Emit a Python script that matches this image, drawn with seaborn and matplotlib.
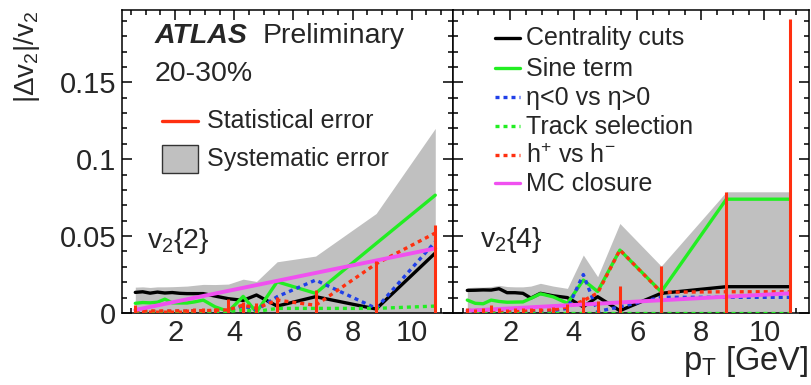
import numpy as np
import matplotlib
matplotlib.use("Agg")
import matplotlib.pyplot as plt
from matplotlib.ticker import MultipleLocator, FuncFormatter
from matplotlib.patches import Rectangle
import seaborn as sns

# ---------------- data ----------------
pt = [0.65, 0.9, 1.15, 1.4, 1.65, 1.9, 2.15, 2.4, 2.65, 2.95, 3.35, 3.8,
      4.3, 4.75, 5.45, 6.75, 8.8, 10.8]

# v2{2}
v22_syst = [0.0168, 0.0170, 0.0166, 0.0170, 0.0170, 0.0171, 0.0173, 0.0175, 0.0180, 0.0186,
            0.0185, 0.0188, 0.0220, 0.0205, 0.0333, 0.0370, 0.0647, 0.1200]
v22_centrality = [0.0134, 0.0138, 0.0129, 0.0136, 0.0130, 0.0133, 0.0128, 0.0126, 0.0126, 0.0126,
                  0.0110, 0.0093, 0.0082, 0.0117, 0.0045, 0.0106, 0.0026, 0.0390]
v22_sine = [0.0063, 0.0068, 0.0066, 0.0070, 0.0090, 0.0066, 0.0065, 0.0065, 0.0072, 0.0084,
            0.0040, 0.0010, 0.0108, 0.0005, 0.0203, 0.0128, 0.0452, 0.0766]
v22_eta = [0.0010, 0.0008, 0.0010, 0.0008, 0.0010, 0.0012, 0.0010, 0.0012, 0.0015, 0.0012,
           0.0010, 0.0015, 0.0045, 0.0020, 0.0106, 0.0214, 0.0030, 0.0463]
v22_track = [0.0008, 0.0008, 0.0008, 0.0008, 0.0008, 0.0008, 0.0008, 0.0008, 0.0008, 0.0010,
             0.0010, 0.0010, 0.0020, 0.0010, 0.0030, 0.0030, 0.0030, 0.0045]
v22_charge = [0.0015, 0.0012, 0.0015, 0.0012, 0.0015, 0.0012, 0.0015, 0.0012, 0.0015, 0.0015,
              0.0018, 0.0020, 0.0052, 0.0031, 0.0084, 0.0050, 0.0320, 0.0520]
v22_mc_pt = [0.65, 10.8]
v22_mc = [0.0020, 0.0420]
v22_stat = [0.0050, 0.0020, 0.0020, 0.0020, 0.0020, 0.0020, 0.0020, 0.0025, 0.0030, 0.0030,
            0.0030, 0.0090, 0.0073, 0.0063, 0.0106, 0.0150, 0.0340, 0.0570]

# v2{4}
v24_syst = [0.0165, 0.0168, 0.0168, 0.0172, 0.0180, 0.0172, 0.0170, 0.0170, 0.0175, 0.0193,
            0.0175, 0.0160, 0.0377, 0.0236, 0.0582, 0.0305, 0.0788, 0.0788]
v24_centrality = [0.0147, 0.0148, 0.0150, 0.0149, 0.0158, 0.0132, 0.0132, 0.0128, 0.0097, 0.0128,
                  0.0112, 0.0100, 0.0040, 0.0106, 0.0015, 0.0128, 0.0171, 0.0171]
v24_sine = [0.0084, 0.0063, 0.0060, 0.0084, 0.0075, 0.0070, 0.0071, 0.0072, 0.0095, 0.0125,
            0.0105, 0.0063, 0.0214, 0.0140, 0.0409, 0.0138, 0.0740, 0.0740]
v24_eta = [0.0005, 0.0006, 0.0005, 0.0008, 0.0006, 0.0008, 0.0010, 0.0008, 0.0010, 0.0012,
           0.0015, 0.0030, 0.0250, 0.0010, 0.0040, 0.0102, 0.0102, 0.0102]
v24_track = [0.0003, 0.0003, 0.0003, 0.0003, 0.0003, 0.0003, 0.0003, 0.0003, 0.0003, 0.0003,
             0.0003, 0.0003, 0.0003, 0.0003, 0.0003, 0.0003, 0.0003, 0.0003]
v24_charge = [0.0015, 0.0018, 0.0015, 0.0020, 0.0015, 0.0018, 0.0015, 0.0018, 0.0020, 0.0020,
              0.0020, 0.0040, 0.0080, 0.0130, 0.0410, 0.0135, 0.0138, 0.0138]
v24_mc_pt = [0.65, 10.8]
v24_mc = [0.0015, 0.0128]
v24_stat = [0.0030, 0.0025, 0.0030, 0.0050, 0.0030, 0.0025, 0.0030, 0.0030, 0.0030, 0.0030,
            0.0040, 0.0060, 0.0106, 0.0080, 0.0175, 0.0305, 0.0788, 0.1913]

x_ticks = [2, 4, 6, 8, 10]
y_ticks = [0, 0.05, 0.1, 0.15]

# ---------------- style ----------------
sns.set_style("ticks")
plt.rcParams["font.family"] = ["Liberation Sans", "DejaVu Sans"]
plt.rcParams["mathtext.fontset"] = "custom"
plt.rcParams["mathtext.rm"] = "Liberation Sans"
plt.rcParams["mathtext.it"] = "Liberation Sans:italic"
plt.rcParams["mathtext.bf"] = "Liberation Sans:bold"
plt.rcParams["mathtext.default"] = "rm"

C_BLACK = "#000000"
C_GREEN = "#22ee22"
C_BLUE = "#2040e8"
C_RED = "#ff3010"
C_MAG = "#f050f0"
C_GREY = "#c0c0c0"
LW = 2.4
DOT = (0, (1.2, 1.2))

fig = plt.figure(figsize=(8.12, 3.85), dpi=100)
ax_l = fig.add_axes([122 / 812, 72 / 385, 331 / 812, 303 / 385])
ax_r = fig.add_axes([453 / 812, 72 / 385, 356 / 812, 303 / 385])


def draw_panel(ax, syst, cent, sine, eta, track, charge, mc_x, mc, stat):
    ax.fill_between(pt, 0, syst, color=C_GREY, linewidth=0, zorder=1)
    kw = dict(estimator=None, ax=ax, legend=False, zorder=3)
    sns.lineplot(x=pt, y=cent, color=C_BLACK, linewidth=LW, **kw)
    sns.lineplot(x=pt, y=sine, color=C_GREEN, linewidth=LW, **kw)
    sns.lineplot(x=pt, y=eta, color=C_BLUE, linewidth=LW, linestyle=DOT, **kw)
    sns.lineplot(x=pt, y=track, color=C_GREEN, linewidth=LW, linestyle=DOT, **kw)
    sns.lineplot(x=pt, y=charge, color=C_RED, linewidth=LW, linestyle=DOT, **kw)
    sns.lineplot(x=mc_x, y=mc, color=C_MAG, linewidth=2.8, **kw)
    ax.vlines(pt, 0, stat, color=C_RED, linewidth=2.2, zorder=4)

    ax.set_xlim(0.2, 11.4)
    ax.set_ylim(0, 0.197)
    ax.set_xticks(x_ticks)
    ax.set_yticks(y_ticks)
    ax.xaxis.set_minor_locator(MultipleLocator(0.5))
    ax.yaxis.set_minor_locator(MultipleLocator(0.01))
    fmt = FuncFormatter(lambda v, p: f"{v:g}")
    ax.xaxis.set_major_formatter(fmt)
    ax.yaxis.set_major_formatter(fmt)
    ax.tick_params(which="both", direction="in", top=True, right=True,
                   width=1.1, color="black", labelsize=21, pad=4)
    ax.tick_params(which="major", length=7.5)
    ax.tick_params(which="minor", length=3.8)
    for s in ax.spines.values():
        s.set_linewidth(1.1)
        s.set_color("black")
    ax.set_xlabel("")
    ax.set_ylabel("")


draw_panel(ax_l, v22_syst, v22_centrality, v22_sine, v22_eta, v22_track, v22_charge,
           v22_mc_pt, v22_mc, v22_stat)
draw_panel(ax_r, v24_syst, v24_centrality, v24_sine, v24_eta, v24_track, v24_charge,
           v24_mc_pt, v24_mc, v24_stat)
ax_r.tick_params(labelleft=False)

# ---------------- labels, left panel ----------------
ax_l.text(0.0997, 0.890, "ATLAS", transform=ax_l.transAxes, fontsize=20.5,
          fontweight="bold", fontstyle="italic", va="baseline", ha="left")
ax_l.text(0.426, 0.890, "Preliminary", transform=ax_l.transAxes, fontsize=20.5,
          va="baseline", ha="left")
ax_l.text(0.0997, 0.766, "20-30%", transform=ax_l.transAxes, fontsize=20.5,
          va="baseline", ha="left")
ax_l.plot([0.121, 0.230], [0.635, 0.635], color=C_RED, linewidth=2.4,
          transform=ax_l.transAxes, clip_on=False, zorder=5)
ax_l.text(0.257, 0.610, "Statistical error", transform=ax_l.transAxes, fontsize=18,
          va="baseline", ha="left")
ax_l.add_patch(Rectangle((0.121, 0.462), 0.109, 0.092, transform=ax_l.transAxes,
                         facecolor=C_GREY, edgecolor="#333333", linewidth=1.0, zorder=5))
ax_l.text(0.257, 0.486, "Systematic error", transform=ax_l.transAxes, fontsize=18,
          va="baseline", ha="left")
ax_l.text(0.0755, 0.2145, "v$_2${2}", transform=ax_l.transAxes, fontsize=20.5,
          va="baseline", ha="left")

# ---------------- labels, right panel ----------------
legend_rows = [
    ("Centrality cuts", C_BLACK, "-", 0.9076, 0.8845),
    ("Sine term", C_GREEN, "-", 0.8086, 0.782),
    ("η<0 vs η>0", C_BLUE, DOT, 0.7129, 0.6865),
    ("Track selection", C_GREEN, DOT, 0.6172, 0.591),
    ("h$^{+}$ vs h$^{-}$", C_RED, DOT, 0.5215, 0.495),
    ("MC closure", C_MAG, "-", 0.429, 0.401),
]
for label, col, ls, ly, ty in legend_rows:
    ax_r.plot([0.118, 0.188], [ly, ly], color=col, linestyle=ls, linewidth=LW,
              transform=ax_r.transAxes, clip_on=False, zorder=5)
    ax_r.text(0.205, ty, label, transform=ax_r.transAxes, fontsize=18,
              va="baseline", ha="left")
ax_r.text(0.0758, 0.218, "v$_2${4}", transform=ax_r.transAxes, fontsize=20.5,
          va="baseline", ha="left")

# axis titles
fig.text(27 / 812, 1 - 11 / 385, "|Δv$_2$|/v$_2$", rotation=90, fontsize=20,
         ha="center", va="top")
fig.text(0.996, 0.015, "p$_T$ [GeV]", fontsize=23.5, ha="right", va="bottom")

fig.savefig("out.png", dpi=100)
